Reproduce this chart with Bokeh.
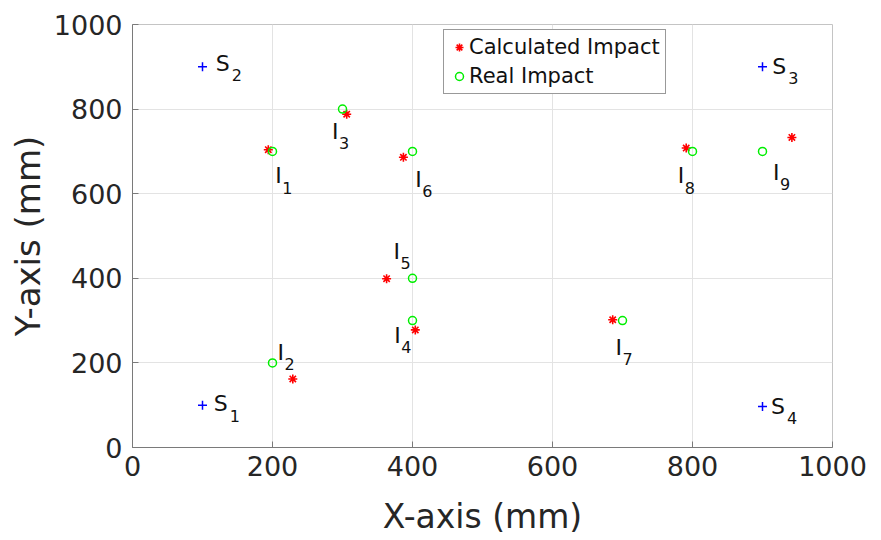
from bokeh.plotting import figure
from bokeh.models import ColumnDataSource, Legend, LegendItem, Range1d
from bokeh.core.properties import value
from bokeh.embed import file_html
from bokeh.resources import INLINE

FONT = "DejaVu Sans"

# Sensor positions (mm)
sensor_ids = ["1", "2", "3", "4"]
sensor_x = [100, 100, 900, 900]
sensor_y = [100, 900, 900, 97]

# Impact points (mm): real locations and the calculated estimates
impact_ids = ["1", "2", "3", "4", "5", "6", "7", "8", "9"]
real_x = [200, 200, 300, 400, 400, 400, 700, 800, 900]
real_y = [700, 200, 800, 300, 400, 700, 300, 700, 700]
calc_x = [194, 229, 306, 404, 363, 387, 686, 791, 942]
calc_y = [704, 162, 788, 278, 399, 686, 302, 708, 733]

# Text anchors for the point names (mm)
sensor_label_x = [116, 119, 914, 912]
sensor_label_y = [103, 908, 901, 97]
impact_label_x = [204, 207, 285, 374, 373, 404, 690, 779, 915]
impact_label_y = [643, 225, 748, 265, 464, 634, 237, 643, 651]

axis_ticks = [0, 200, 400, 600, 800, 1000]

p = figure(
    width=881, height=540,
    x_range=Range1d(0, 1000), y_range=Range1d(0, 1000),
    output_backend="svg", toolbar_location=None,
    min_border_left=132, min_border_right=49,
    min_border_top=24, min_border_bottom=93,
)
p.background_fill_color = "white"
p.border_fill_color = "white"
p.outline_line_color = "#c4c4c4"
p.outline_line_width = 1

# axes
for ax in (p.xaxis, p.yaxis):
    ax.ticker = axis_ticks
    ax.major_label_text_font = FONT
    ax.major_label_text_font_size = "27px"
    ax.major_label_text_color = "#262626"
    ax.axis_label_text_font = FONT
    ax.axis_label_text_font_style = "normal"
    ax.axis_label_text_color = "#262626"
    ax.axis_line_color = "#7a7a7a"
    ax.axis_line_width = 1
    ax.major_tick_line_color = "#7a7a7a"
    ax.major_tick_in = 6
    ax.major_tick_out = 0
    ax.minor_tick_line_color = None
p.xaxis.axis_label = "X-axis (mm)"
p.yaxis.axis_label = "Y-axis (mm)"
p.xaxis.axis_label_text_font_size = "33px"
p.yaxis.axis_label_text_font_size = "34px"
p.xaxis.major_label_standoff = 8
p.yaxis.major_label_standoff = 10
p.xaxis.axis_label_standoff = 18
p.yaxis.axis_label_standoff = 3

p.grid.grid_line_color = "#e3e3e3"
p.grid.grid_line_width = 1

# sensors
p.scatter(sensor_x, sensor_y, marker="cross", size=9,
          line_color="#0000ff", line_width=1.5)

# calculated and real impacts
calc_r = p.scatter(calc_x, calc_y, marker="asterisk", size=9,
                   line_color="#ff0000", line_width=1.6)
real_r = p.scatter(real_x, real_y, marker="circle", size=8,
                   fill_color=None, line_color="#00ee00", line_width=1.5)

# point names: a main letter with a subscript number
labels = ColumnDataSource(dict(
    x=sensor_label_x + impact_label_x,
    y=sensor_label_y + impact_label_y,
    main=["S"] * len(sensor_ids) + ["I"] * len(impact_ids),
    sub=sensor_ids + impact_ids,
    dx=[16] * len(sensor_ids) + [7] * len(impact_ids),
))
p.text(x="x", y="y", text="main", source=labels,
       text_font=value(FONT), text_font_size="22px",
       text_align="left", text_baseline="alphabetic", text_color="#111111")
p.text(x="x", y="y", text="sub", source=labels, x_offset="dx", y_offset=12,
       text_font=value(FONT), text_font_size="16px",
       text_align="left", text_baseline="alphabetic", text_color="#111111")

legend = Legend(
    items=[LegendItem(label="Calculated Impact", renderers=[calc_r]),
           LegendItem(label="Real Impact", renderers=[real_r])],
    location=(311, 353),
    label_text_font=FONT, label_text_font_size="21px",
    label_text_color="#111111",
    glyph_width=20, glyph_height=24, label_standoff=0,
    padding=5, spacing=5, margin=0,
    border_line_color="#333333", border_line_width=1,
    background_fill_color="white", background_fill_alpha=1.0,
)
p.add_layout(legend, "center")

open("out.html", "w").write(file_html(p, INLINE))
